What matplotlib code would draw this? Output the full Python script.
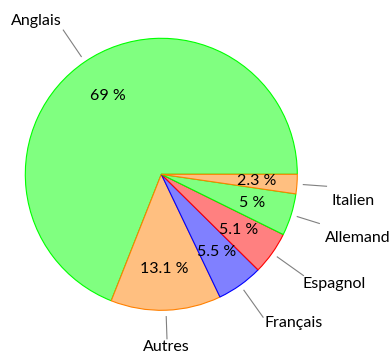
import numpy as np
import matplotlib
matplotlib.use("Agg")
import matplotlib.pyplot as plt

# Share of languages (percent), clockwise from the 3 o'clock position
languages = ["Italien", "Allemand", "Espagnol", "Français", "Autres", "Anglais"]
shares = [2.3, 5, 5.1, 5.5, 13.1, 69]
pct_labels = ["2.3 %", "5 %", "5.1 %", "5.5 %", "13.1 %", "69 %"]

fill_colors = ["#FFBF80", "#80FF80", "#FF8080", "#8080FF", "#FFBF80", "#80FF80"]
edge_colors = ["#FF8000", "#00FF00", "#FF0000", "#0000FF", "#FF8000", "#00FF00"]

# Outer end of each leader line (in pie radii) and label centre (in pie radii)
leader_outer = [1.218, 1.217, 1.283, 1.29, 1.21, 1.282]
label_pos = [(1.413, -0.194), (1.446, -0.466), (1.274, -0.807),
             (0.972, -1.091), (0.038, -1.272), (-0.921, 1.127)]

plt.rcParams["font.family"] = ["Lato", "DejaVu Sans"]

W, H, DPI = 392, 356, 100
fig = plt.figure(figsize=(W / DPI, H / DPI), dpi=DPI)
ax = fig.add_axes([0, 0, 1, 1])

cx, cy, rpx = 161.3, 174.3, 136.0

wedges, _ = ax.pie(shares, startangle=0, counterclock=False, radius=1.0,
                   colors=fill_colors, normalize=True,
                   wedgeprops=dict(linewidth=0.8))
n = len(wedges)
for i, w in enumerate(wedges):
    w.set_edgecolor(edge_colors[i])
    w.set_zorder(10 + n - i)

total = sum(shares)
start = 0.0
for i, s in enumerate(shares):
    span = 360.0 * s / total
    mid = np.deg2rad(start - span / 2)
    start -= span
    c, sn = np.cos(mid), np.sin(mid)
    ax.text(0.7 * c, 0.7 * sn, pct_labels[i], ha="center", va="center",
            fontsize=11.5, color="black", zorder=30)
    r0, r1 = 1.047, leader_outer[i]
    ax.plot([r0 * c, r1 * c], [r0 * sn, r1 * sn], color="#808080",
            linewidth=0.8, zorder=5)
    lx, ly = label_pos[i]
    ax.text(lx, ly, languages[i], ha="center", va="center",
            fontsize=11.5, color="black")

ax.set_aspect("auto")
ax.set_xlim(-cx / rpx, (W - cx) / rpx)
ax.set_ylim(-(H - cy) / rpx, cy / rpx)
ax.set_axis_off()

fig.savefig("out.png", dpi=DPI)
